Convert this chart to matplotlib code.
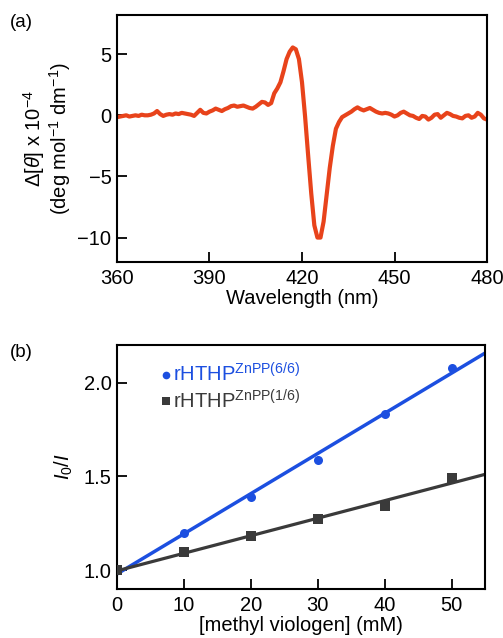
import numpy as np
import matplotlib
matplotlib.use("Agg")
import matplotlib.pyplot as plt

plt.rcParams['font.family'] = ['Liberation Sans', 'DejaVu Sans']
plt.rcParams['mathtext.fontset'] = 'custom'
plt.rcParams['mathtext.rm'] = 'Liberation Sans'
plt.rcParams['mathtext.it'] = 'Liberation Sans:italic'
plt.rcParams['mathtext.bf'] = 'Liberation Sans:bold'

# ---------------- data ----------------
wavelength = list(range(360, 481))
cd_signal = [
    -0.15, -0.10, -0.05, 0.00, -0.10, -0.05, 0.00, -0.05, 0.05, 0.00,   # 360-369
    0.00, 0.05, 0.15, 0.35, 0.10, -0.05, 0.05, 0.10, 0.05, 0.15,        # 370-379
    0.10, 0.20, 0.15, 0.10, 0.05, -0.05, 0.20, 0.45, 0.20, 0.15,        # 380-389
    0.30, 0.40, 0.55, 0.45, 0.35, 0.50, 0.60, 0.75, 0.80, 0.70,         # 390-399
    0.75, 0.80, 0.70, 0.60, 0.55, 0.70, 0.90, 1.10, 1.05, 0.85,         # 400-409
    1.00, 1.80, 2.20, 2.70, 3.60, 4.60, 5.20, 5.55, 5.40, 4.60,         # 410-419
    2.70, -0.10, -3.30, -6.40, -9.00, -10.00, -10.00, -8.70, -6.50, -4.30,  # 420-429
    -2.50, -1.10, -0.55, -0.15, 0.00, 0.15, 0.30, 0.50, 0.65, 0.50,     # 430-439
    0.40, 0.50, 0.60, 0.45, 0.30, 0.20, 0.15, 0.20, 0.15, 0.05,         # 440-449
    -0.10, 0.00, 0.20, 0.30, 0.15, 0.00, -0.05, -0.20, -0.30, -0.05,    # 450-459
    -0.10, -0.35, -0.20, 0.05, 0.10, -0.20, 0.00, 0.20, 0.10, -0.05,    # 460-469
    -0.10, -0.20, -0.25, -0.05, 0.00, -0.20, -0.10, 0.20, 0.05, -0.25,  # 470-479
    -0.35,                                                              # 480
]

mv_conc = [0, 10, 20, 30, 40, 50]
ratio_66 = [1.00, 1.20, 1.39, 1.59, 1.83, 2.08]
ratio_16 = [1.00, 1.096, 1.184, 1.273, 1.34, 1.49]

label_66 = r'rHTHP$^{\mathrm{ZnPP(6/6)}}$'
label_16 = r'rHTHP$^{\mathrm{ZnPP(1/6)}}$'

c_orange = '#e8431b'
c_blue = '#1c4fe0'
c_gray = '#3a3a3a'

FS = 14.5

fig = plt.figure(figsize=(5.03, 6.38), dpi=100)

# ---------------- panel (a) ----------------
ax1 = fig.add_axes([0.2326, 0.5893, 0.7356, 0.3871])
ax1.plot(wavelength, cd_signal, color=c_orange, lw=3.0, solid_joinstyle='round')
ax1.set_xlim(360, 480)
ax1.set_ylim(-12, 8.2)
ax1.set_xticks([360, 390, 420, 450, 480])
ax1.set_yticks([5, 0, -5, -10])
ax1.set_xlabel('Wavelength (nm)', fontsize=FS, labelpad=1)
ax1.set_ylabel(r'$\mathit{Δ}$[$\mathit{θ}$] x 10$^{-4}$' + '\n' +
               r'(deg mol$^{-1}$ dm$^{-1}$)', fontsize=FS, labelpad=3,
               linespacing=1.0)

# ---------------- panel (b) ----------------
ax2 = fig.add_axes([0.2326, 0.0768, 0.7316, 0.3824])
xfit = np.array([0, 55])
p66 = np.polyfit(mv_conc, ratio_66, 1)
p16 = np.polyfit(mv_conc, ratio_16, 1)
ax2.plot(xfit, np.polyval(p66, xfit), color=c_blue, lw=2.5, zorder=2)
ax2.plot(xfit, np.polyval(p16, xfit), color=c_gray, lw=2.3, zorder=2)
ax2.plot(mv_conc, ratio_66, 'o', color=c_blue, ms=6.5, mew=0, zorder=3,
         label=label_66)
ax2.plot(mv_conc, ratio_16, 's', color=c_gray, ms=6.5, mew=0, zorder=4,
         label=label_16)
ax2.set_xlim(0, 55)
ax2.set_ylim(0.9, 2.2)
ax2.set_xticks([0, 10, 20, 30, 40, 50])
ax2.set_yticks([1.0, 1.5, 2.0])
ax2.set_yticklabels(['1.0', '1.5', '2.0'])
ax2.set_xlabel('[methyl viologen] (mM)', fontsize=FS, labelpad=1)
ax2.set_ylabel(r'$\mathit{I}_{0}/\mathit{I}$', fontsize=FS, labelpad=6)
leg = ax2.legend(loc='upper left', bbox_to_anchor=(0.085, 0.985), frameon=False,
                 fontsize=FS, handlelength=0.4, handletextpad=0.15,
                 labelspacing=0.15, borderpad=0.2, markerscale=0.85,
                 labelcolor=[c_blue, c_gray])

for ax in (ax1, ax2):
    for s in ax.spines.values():
        s.set_linewidth(1.5)
        s.set_color('black')
    ax.tick_params(direction='in', length=7, width=1.3, labelsize=FS,
                   pad=5, colors='black')
    ax.tick_params(axis='y', pad=4)

fig.text(0.02, 0.965, '(a)', fontsize=FS - 1, va='center', ha='left')
fig.text(0.02, 0.447, '(b)', fontsize=FS - 1, va='center', ha='left')

fig.savefig('out.png', dpi=100)
